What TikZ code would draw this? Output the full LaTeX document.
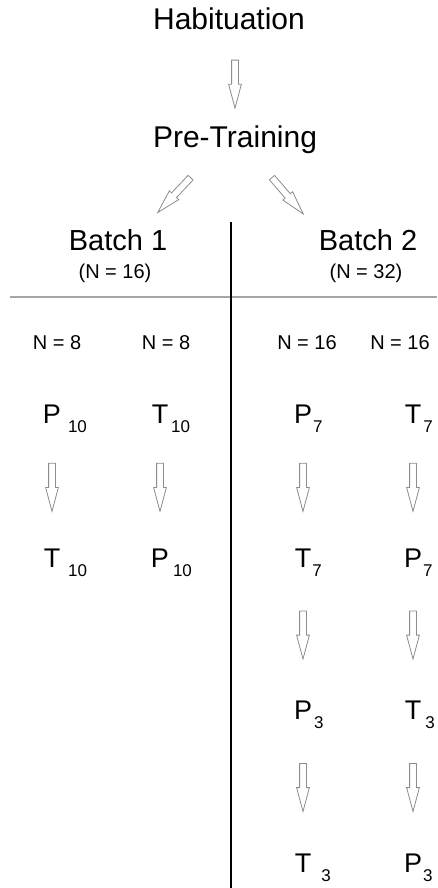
\documentclass[tikz,border=0pt]{standalone}
\usepackage{fontspec}
\setmainfont{Liberation Sans}
\usetikzlibrary{shapes.arrows}
\definecolor{arrowgray}{HTML}{8C8C8C}
\definecolor{rulegray}{HTML}{A6A6A6}
% letter with a lowered index that takes no room in the node box
\newcommand\condsub[2][3pt]{\rlap{\kern#1\smash{\raisebox{-9pt}{\fontsize{17}{17}\selectfont #2}}}}
\begin{document}
\begin{tikzpicture}[x=1pt,y=-1pt,
  title/.style={font=\fontsize{30}{30}\selectfont, inner sep=0pt, anchor=base},
  batch/.style={font=\fontsize{29}{29}\selectfont, inner sep=0pt, anchor=base},
  count/.style={font=\fontsize{20}{20}\selectfont, inner sep=0pt, anchor=base},
  cond/.style={font=\fontsize{27}{27}\selectfont, inner sep=0pt},
  harrow/.style={single arrow, draw=arrowgray, line width=0.8pt, fill=white,
    minimum height=48pt, inner sep=3pt, single arrow head extend=3pt,
    single arrow tip angle=30, sloped, allow upside down}
]
\useasboundingbox (0,0) rectangle (437,888);

% phases
\node[title] (hab) at (229,30) {Habituation};
\node[title] (pre) at (235,147) {Pre-Training};
\path (hab.south -| pre.north) -- (pre.north) node[harrow, midway] {};

% split into the two batches
\coordinate (la) at (195,173);
\coordinate (lb) at (162,208);
\coordinate (ra) at (268,173);
\coordinate (rb) at (299,209);
\path (la) -- (lb) node[harrow, midway] {};
\path (ra) -- (rb) node[harrow, midway] {};

\node[batch] (b1) at (118,250) {Batch 1};
\node[count] (n1) at (115,278) {(N = 16)};
\node[batch] (b2) at (368,250) {Batch 2};
\node[count] (n2) at (366,278) {(N = 32)};

% dividers
\draw[rulegray, line width=1.5pt] (10,297) -- (437,297);
\draw[line width=2pt] (231,222) -- (231,888);

% group sizes
\node[count] (g1) at (57,349) {N = 8};
\node[count] (g2) at (166,349) {N = 8};
\node[count] (g3) at (307,349) {N = 16};
\node[count] (g4) at (400,349) {N = 16};

% batch 1 sequences
\node[cond] (c1r1) at (52,414) {P\condsub[7pt]{10}};
\node[cond] (c1r2) at (52,558) {T\condsub[8pt]{10}};
\node[cond] (c2r1) at (160,414) {T\condsub[3pt]{10}};
\node[cond] (c2r2) at (160,558) {P\condsub[4pt]{10}};

% batch 2 sequences
\node[cond] (c3r1) at (303,414) {P\condsub[1pt]{7}};
\node[cond] (c3r2) at (303,558) {T\condsub[1pt]{7}};
\node[cond] (c3r3) at (303,710) {P\condsub[2pt]{3}};
\node[cond] (c3r4) at (303,863) {T\condsub[10pt]{3}};
\node[cond] (c4r1) at (413,414) {T\condsub[2pt]{7}};
\node[cond] (c4r2) at (413,558) {P\condsub[1pt]{7}};
\node[cond] (c4r3) at (413,710) {T\condsub[4pt]{3}};
\node[cond] (c4r4) at (413,863) {P\condsub[1pt]{3}};

\foreach \c in {1,2} {
  \path (c\c r1.south) -- (c\c r2.north) node[harrow, pos=0.46] {};
}
\foreach \c in {3,4} {
  \path (c\c r1.south) -- (c\c r2.north) node[harrow, pos=0.46] {};
  \path (c\c r2.south) -- (c\c r3.north) node[harrow, pos=0.46] {};
  \path (c\c r3.south) -- (c\c r4.north) node[harrow, pos=0.46] {};
}
\end{tikzpicture}
\end{document}
